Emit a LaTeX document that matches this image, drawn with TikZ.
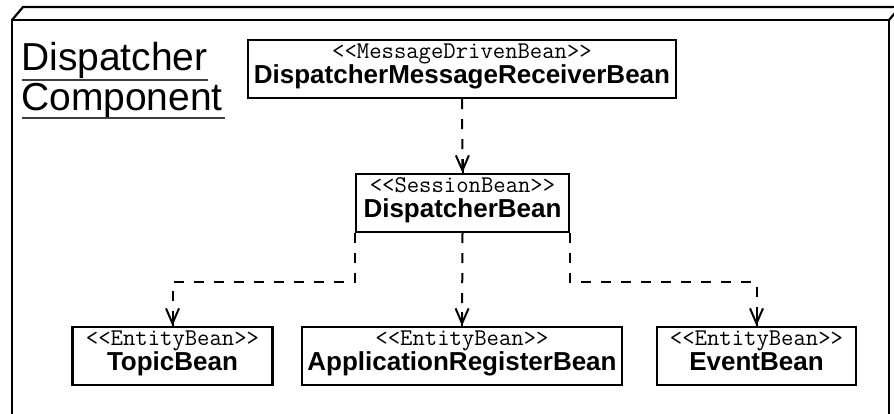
\documentclass[tikz,border=0pt]{standalone}
\usepackage{fontspec}
\setmainfont{Liberation Sans}
\usetikzlibrary{arrows.meta,calc}
\begin{document}
\begin{tikzpicture}[x=1pt,y=-1pt,
  frame/.style={line width=2.2pt,line join=miter},
  box/.style={draw,line width=2.2pt,minimum height=58pt,inner sep=0pt,fill=white},
  st/.style={inner sep=0pt,font=\ttfamily\fontsize{24}{26}\selectfont},
  nm/.style={inner sep=0pt,font=\bfseries\fontsize{26}{30}\selectfont},
  ttl/.style={inner sep=0pt,font=\fontsize{39}{42}\selectfont},
  uline/.style={line width=1.1pt,draw=black!75},
  conn/.style={line width=2pt,dash pattern=on 10pt off 10pt,-{Straight Barb[length=15pt,width=13pt]}},
  stem/.style={line width=2pt}]
\useasboundingbox (0,0) rectangle (894,413);
\clip (0,0) rectangle (894,413);
\fill[white] (0,0) rectangle (894,413);
% component frame
\draw[frame] (12,420) -- (12,20) -- (889,20) -- (889,420);
\draw[frame] (12,20) -- (23,7) -- (905,7);
\draw[frame] (889,20) -- (900,7);
% title
\node[ttl,anchor=base west] (t1) at (21,70) {Dispatcher};
\node[ttl,anchor=base west] (t2) at (21,110) {Component};
\draw[uline] ($(t1.base west)+(1,10)$) -- ($(t1.base east)+(0,10)$);
\draw[uline] ($(t2.base west)+(1,8)$) -- ($(t2.base east)+(2,8)$);
% boxes
\node[box,minimum width=428pt] (b1) at (462,69) {};
\node[box,minimum width=213pt] (b2) at (462.5,203) {};
\node[box,minimum width=200pt] (tb) at (172.5,356) {};
\node[box,minimum width=320pt] (ab) at (462,356) {};
\node[box,minimum width=199pt] (eb) at (756.5,356) {};
% texts
\node[st,anchor=base] (b1s) at ($(b1.north)+(0,20)$) {<<MessageDrivenBean>>};
\node[nm,anchor=base] (b1n) at ($(b1.north)+(0,45)$) {DispatcherMessageReceiverBean};
\node[st,anchor=base] (b2s) at ($(b2.north)+(0,20)$) {<<SessionBean>>};
\node[nm,anchor=base] (b2n) at ($(b2.north)+(0,45)$) {DispatcherBean};
\node[st,anchor=base] (tbs) at ($(tb.north)+(0,20)$) {<<EntityBean>>};
\node[nm,anchor=base] (tbn) at ($(tb.north)+(0,45)$) {TopicBean};
\node[st,anchor=base] (abs) at ($(ab.north)+(0,20)$) {<<EntityBean>>};
\node[nm,anchor=base] (abn) at ($(ab.north)+(0,45)$) {ApplicationRegisterBean};
\node[st,anchor=base] (ebs) at ($(eb.north)+(0,20)$) {<<EntityBean>>};
\node[nm,anchor=base] (ebn) at ($(eb.north)+(0,45)$) {EventBean};
% connectors
\draw[conn] (b1.south) -- (b2.north);
\draw[conn] (b2.south west) -- ++(0,49) -| (tb.north);
\draw[conn] (b2.south) -- (ab.north);
\draw[conn] (b2.south east) -- ++(0,49) -| (eb.north);
\foreach \n in {b2,tb,ab,eb} \draw[stem] ($(\n.north)+(0,-14)$) -- (\n.north);
\end{tikzpicture}
\end{document}
